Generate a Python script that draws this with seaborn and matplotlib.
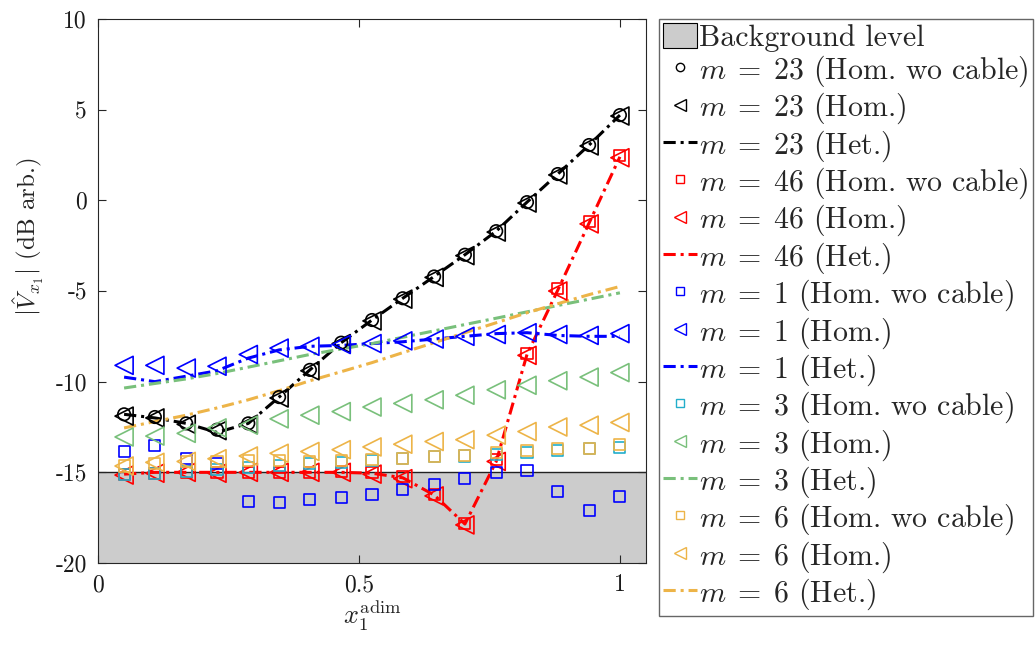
import numpy as np
import matplotlib
matplotlib.use('Agg')
import matplotlib.pyplot as plt
import seaborn as sns
from matplotlib.lines import Line2D
from matplotlib.patches import Patch

# positions along the cable
x_pos = [0.05, 0.109, 0.169, 0.228, 0.288, 0.347, 0.406, 0.466, 0.525,
         0.584, 0.644, 0.703, 0.763, 0.822, 0.881, 0.941, 1.0]

# m = 23
m23_wo = [-11.8, -11.95, -12.3, -12.65, -12.3, -10.85, -9.35, -7.85, -6.6,
          -5.4, -4.2, -3.0, -1.7, -0.1, 1.45, 3.05, 4.7]
m23_hom = [-11.9, -12.0, -12.35, -12.7, -12.35, -10.9, -9.4, -7.9, -6.65,
           -5.45, -4.25, -3.05, -1.75, -0.15, 1.4, 3.0, 4.65]
m23_het = [-11.8, -12.0, -12.3, -12.8, -12.3, -10.85, -9.35, -7.85, -6.6,
           -5.4, -4.2, -3.0, -1.7, -0.1, 1.45, 3.05, 4.7]

# m = 46
m46_wo = [-15.1, -15.05, -15.0, -15.0, -15.0, -15.0, -15.0, -14.95, -15.0,
          -15.25, -16.2, -17.8, -14.3, -8.45, -4.85, -1.15, 2.45]
m46_hom = [-15.15, -15.05, -15.0, -15.05, -15.0, -15.0, -15.0, -15.0, -15.1,
           -15.35, -16.3, -17.9, -14.4, -8.55, -5.0, -1.3, 2.35]
m46_het = [-15.1, -15.0, -15.0, -15.0, -15.0, -15.0, -15.0, -15.0, -15.05,
           -15.3, -16.25, -17.85, -14.4, -8.5, -4.95, -1.25, 2.4]

# m = 1
m1_wo = [-13.85, -13.5, -14.25, -14.5, -16.6, -16.65, -16.5, -16.4, -16.2,
         -15.95, -15.65, -15.35, -15.0, -14.9, -16.05, -17.1, -16.35]
m1_hom = [-9.1, -9.1, -9.25, -9.15, -8.5, -8.15, -8.05, -7.95, -7.9,
          -7.75, -7.65, -7.5, -7.4, -7.3, -7.4, -7.45, -7.35]
m1_het = [-9.75, -10.0, -9.7, -9.4, -8.7, -8.25, -8.05, -8.0, -7.9,
          -7.8, -7.65, -7.5, -7.35, -7.3, -7.45, -7.5, -7.5]

# m = 3
m3_wo = [-15.1, -15.05, -14.95, -14.85, -14.75, -14.6, -14.5, -14.45, -14.35,
         -14.25, -14.15, -14.1, -14.0, -13.9, -13.8, -13.7, -13.65]
m3_hom = [-13.05, -13.0, -12.85, -12.55, -12.4, -12.05, -11.85, -11.65, -11.4,
          -11.2, -11.0, -10.75, -10.45, -10.2, -9.95, -9.75, -9.5]
m3_het = [-10.35, -10.1, -9.85, -9.55, -9.2, -8.85, -8.5, -8.2, -7.9,
          -7.55, -7.2, -6.85, -6.5, -6.15, -5.8, -5.45, -5.1]

# m = 6
m6_wo = [-14.65, -14.5, -14.4, -14.4, -14.35, -14.35, -14.4, -14.35, -14.3,
         -14.25, -14.15, -14.05, -13.9, -13.8, -13.7, -13.7, -13.45]
m6_hom = [-14.65, -14.45, -14.4, -14.25, -14.1, -13.95, -13.85, -13.75, -13.6,
          -13.45, -13.3, -13.2, -12.95, -12.75, -12.5, -12.4, -12.25]
m6_het = [-12.55, -12.2, -11.85, -11.45, -11.0, -10.5, -9.95, -9.45, -8.95,
          -8.4, -7.85, -7.3, -6.75, -6.2, -5.7, -5.2, -4.75]

x_ticks = [0, 0.5, 1]
x_tick_labels = ['0', '0.5', '1']
y_ticks = [-20, -15, -10, -5, 0, 5, 10]
y_tick_labels = ['-20', '-15', '-10', '-5', '0', '5', '10']
background = -15

sns.set_style('ticks')
plt.rcParams['font.family'] = ['cmr10', 'DejaVu Serif']
plt.rcParams['mathtext.fontset'] = 'cm'
plt.rcParams['axes.unicode_minus'] = False

fig = plt.figure(figsize=(10.35, 6.46), dpi=100)
ax = fig.add_axes([98 / 1035, 1 - 563 / 646, 548 / 1035, 544 / 646])

ax.fill_between([0, 1.05], -20, background, color='#cccccc', lw=0, zorder=0)
ax.axhline(background, color='#222222', lw=1.0, zorder=0.5)

dashdot = (0, (4, 1.6, 1, 1.6))
# (color, wo-cable marks, hom triangles, het line, m, wo marker, wo color)
series = [
    ('black', m23_wo, m23_hom, m23_het, '23', 'o', 'black'),
    ('#ff0000', m46_wo, m46_hom, m46_het, '46', 's', '#ff0000'),
    ('#0000ff', m1_wo, m1_hom, m1_het, '1', 's', '#0000ff'),
    ('#79c07b', m3_wo, m3_hom, m3_het, '3', 's', '#22aecb'),
    ('#edb448', m6_wo, m6_hom, m6_het, '6', 's', '#edb448'),
]

handles = [Patch(facecolor='#cccccc', edgecolor='black', lw=0.8)]
labels = ['Background level']
for col, wo, hom, het, m, mk, wocol in series:
    wo_size = 9 if mk == 'o' else 8
    sns.scatterplot(x=x_pos, y=wo, ax=ax, marker=mk, s=wo_size ** 2,
                    facecolor='none', edgecolor=wocol, linewidth=1.2,
                    legend=False, zorder=3)
    sns.scatterplot(x=x_pos, y=hom, ax=ax, marker='<', s=13 ** 2,
                    facecolor='none', edgecolor=col, linewidth=1.2,
                    legend=False, zorder=3)
    sns.lineplot(x=x_pos, y=het, ax=ax, color=col, lw=2.2,
                 linestyle=dashdot, legend=False, zorder=2)
    handles += [
        Line2D([], [], ls='none', marker=mk, ms=6 if mk == 'o' else 5.5,
               mfc='none', mec=wocol, mew=1.0),
        Line2D([], [], ls='none', marker='<', ms=9, mfc='none', mec=col, mew=1.0),
        Line2D([], [], color=col, lw=2.2, ls=dashdot),
    ]
    labels += [r'$m\;=\;%s$ (Hom. wo cable)' % m, r'$m\;=\;%s$ (Hom.)' % m,
               r'$m\;=\;%s$ (Het.)' % m]

ax.set_xlim(0, 1.05)
ax.set_ylim(-20, 10)
ax.set_xticks(x_ticks)
ax.set_xticklabels(x_tick_labels)
ax.set_yticks(y_ticks)
ax.set_yticklabels(y_tick_labels)
ax.tick_params(direction='in', top=True, right=True, length=6, width=0.8,
               labelsize=17, color='#262626', labelcolor='#1a1a1a', pad=8)
for sp in ax.spines.values():
    sp.set_visible(True)
    sp.set_color('#262626')
    sp.set_linewidth(0.8)

ax.set_xlabel(r'$x_1^{\mathrm{adim}}$', fontsize=19, labelpad=2)
ax.set_ylabel(r'$|\hat{V}_{x_1}|$ (dB arb.)', fontsize=18)
ax.yaxis.set_label_coords(-0.095, 0.60)

leg = fig.legend(handles, labels, loc='upper left',
                 bbox_to_anchor=(659 / 1035, 1 - 19 / 646),
                 fontsize=21.5, frameon=True, fancybox=False, framealpha=1,
                 edgecolor='#666666', handlelength=1.15, handleheight=0.95,
                 handletextpad=0.08, labelspacing=0.065, borderpad=0.12,
                 borderaxespad=0)
leg.get_frame().set_linewidth(1.0)

fig.savefig('out.png', dpi=100)
